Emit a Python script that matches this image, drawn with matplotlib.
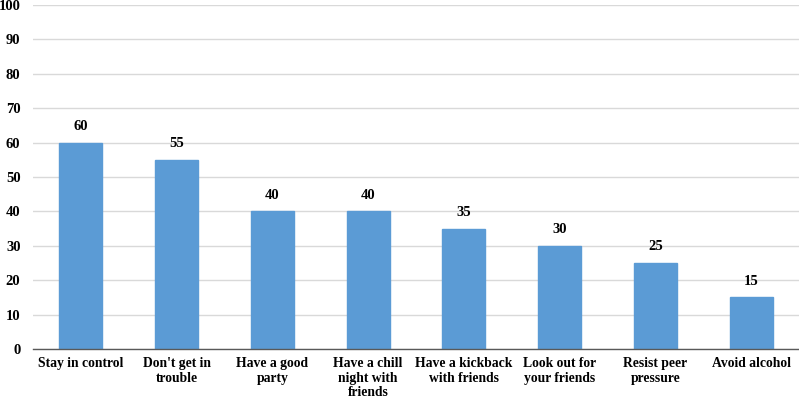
import matplotlib
matplotlib.use("Agg")
import matplotlib.pyplot as plt

categories = ["Stay in control", "Don't get in\ntrouble", "Have a good\nparty",
              "Have a chill\nnight with\nfriends", "Have a kickback\nwith friends",
              "Look out for\nyour friends", "Resist peer\npressure", "Avoid alcohol"]
values = [60, 55, 40, 40, 35, 30, 25, 15]
yticks = list(range(0, 101, 10))

plt.rcParams['font.family'] = ['Liberation Serif', 'DejaVu Serif']
plt.rcParams['font.weight'] = 'bold'

fig = plt.figure(figsize=(7.99, 4.0), dpi=100)
ax = fig.add_axes([33/799, 1-349/400, 1-33/799, 344/400])

x = list(range(len(categories)))
bars = ax.bar(x, values, width=0.45, color='#5B9BD5', edgecolor='#5B9BD5', zorder=3)
for xi, v in zip(x, values):
    ax.annotate(str(v), (xi, v), xytext=(0, 7), textcoords='offset points',
                ha='center', va='bottom', fontsize=10.5, fontweight='bold')

ax.set_xlim(-0.5, len(categories)-0.5)
ax.set_ylim(0, 100)
ax.set_yticks(yticks)
ax.set_yticklabels([str(t) for t in yticks], fontsize=10.5, fontweight='bold')
ax.set_xticks(x)
ax.set_xticklabels(categories, fontsize=9.8, fontweight='bold', linespacing=1.12, va='top')
ax.tick_params(axis='both', length=0)
ax.tick_params(axis='y', pad=9)
ax.tick_params(axis='x', pad=6)
ax.grid(axis='y', color='#D9D9D9', linewidth=1, zorder=0)
for s in ['top', 'right', 'left']:
    ax.spines[s].set_visible(False)
ax.spines['bottom'].set_color('#595959')
ax.spines['bottom'].set_linewidth(1)
ax.spines['bottom'].set_zorder(4)

fig.savefig('out.png', dpi=100)
